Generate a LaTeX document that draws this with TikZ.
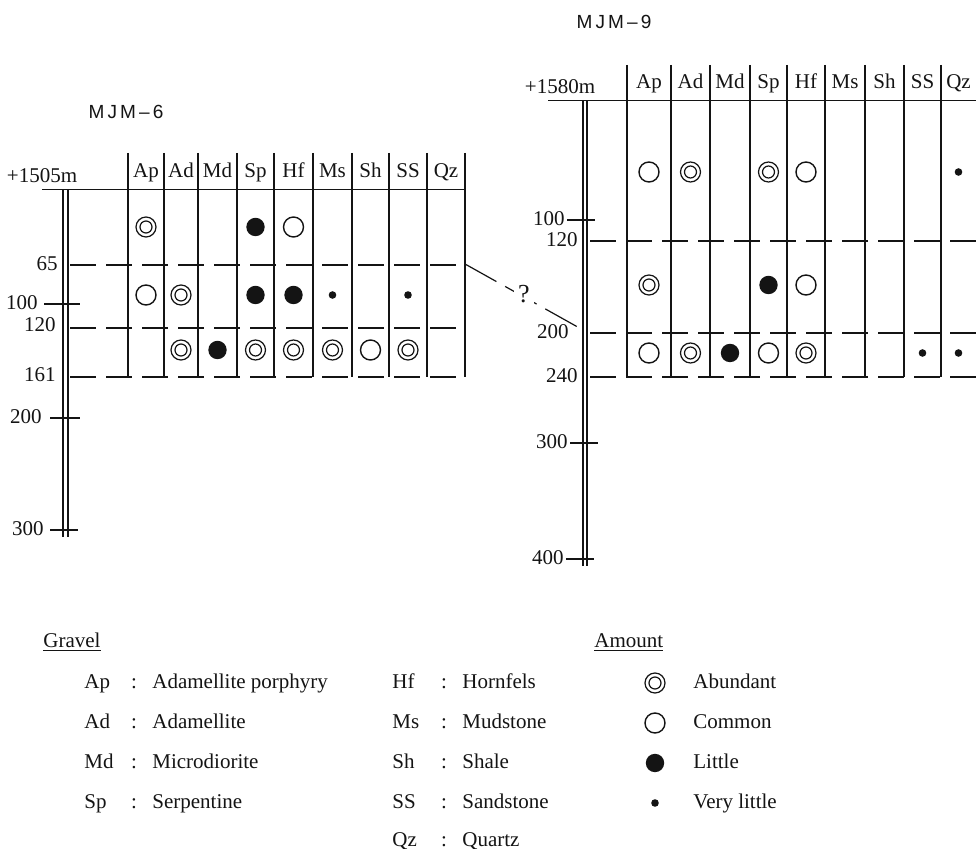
\documentclass[tikz,border=0pt]{standalone}
\usepackage{fontspec}
\setmainfont{Liberation Serif}
\newfontfamily\titlesans{Liberation Sans}
\usetikzlibrary{positioning}
\definecolor{inkblack}{RGB}{20, 20, 20}

% amount symbols
\newcommand{\gAbund}[1]{\draw[inkblack, line width=0.6pt] (#1) circle (5pt) (#1) circle (3pt);}
\newcommand{\gCommon}[1]{\draw[inkblack, line width=0.7pt] (#1) circle (5pt);}
\newcommand{\gLittle}[1]{\fill[inkblack] (#1) circle (4.6pt);}
\newcommand{\gVlittle}[1]{\fill[inkblack] (#1) circle (1.9pt);}

\tikzset{
    txt/.style={inner sep=1pt, font=\fontsize{10.5}{12}\selectfont, text=inkblack,
        text height=1.6ex, text depth=0.4ex},
    depth/.style={txt, anchor=east},
    colline/.style={inkblack, line width=1pt},
    hole/.style={inkblack, line width=0.6pt},
    layer/.style={inkblack, line width=0.7pt, dash pattern=on 13pt off 5pt},
}

\begin{document}
\begin{tikzpicture}[x=0.5pt, y=-0.5pt]
    \useasboundingbox[fill=white] (0,0) rectangle (976,849);

    % ---- MJM-6 ----
    \node[txt, font=\titlesans\fontsize{9.5}{11}\selectfont] (titleL) at (126,113) {M\,J\,M\,\textendash\,6};
    \node[txt] (topL) at (42,177) {+1505m};
    \draw[inkblack, line width=0.5pt] (42,190) -- (465,190);
    \foreach \x in {128,164,198,237,274,313,352,389,427,465}
        \draw[colline] (\x,153) -- (\x,377);
    \foreach \n/\x in {Ap/146,Ad/181,Md/217.5,Sp/255.5,Hf/293.5,Ms/332.5,Sh/370.5,SS/408,Qz/446}
        \node[txt] (hL\n) at (\x,172) {\n};
    \draw[hole] (63,190) -- (63,537) (68,190) -- (68,537);
    \draw[layer] (70,265) -- (465,265);
    \draw[layer] (70,328) -- (465,328);
    \draw[layer] (70,377) -- (465,377);
    \draw[hole] (44,304) -- (80,304) (50,418) -- (80,418) (50,530) -- (78,530);
    \node[depth] (dL65) at (60,265) {65};
    \node[depth] (dL100) at (40,304) {100};
    \node[depth] (dL120) at (58,326) {120};
    \node[depth] (dL161) at (58,376) {161};
    \node[depth] (dL200) at (44,418) {200};
    \node[depth] (dL300) at (46,530) {300};
    \coordinate (linkL) at (465,264);

    \gAbund{146,227} \gLittle{255.5,227} \gCommon{293.5,227}
    \gCommon{146,295} \gAbund{181,295} \gLittle{255.5,295} \gLittle{293.5,295}
    \gVlittle{332.5,295} \gVlittle{408,295}
    \gAbund{181,350} \gLittle{217.5,350} \gAbund{255.5,350} \gAbund{293.5,350}
    \gAbund{332.5,350} \gCommon{370.5,350} \gAbund{408,350}

    % ---- MJM-9 ----
    \node[txt, font=\titlesans\fontsize{9.5}{11}\selectfont] (titleR) at (614,23) {M\,J\,M\,\textendash\,9};
    \node[txt] (topR) at (560,88) {+1580m};
    \draw[inkblack, line width=0.5pt] (548,101) -- (976,101);
    \foreach \x in {627,671,710,750,787,825,865,904,941}
        \draw[colline] (\x,65) -- (\x,377);
    \foreach \n/\x in {Ap/649,Ad/690.5,Md/730,Sp/768.5,Hf/806,Ms/845,Sh/884.5,SS/922.5,Qz/958.5}
        \node[txt] (hR\n) at (\x,83) {\n};
    \draw[hole] (583,101) -- (583,566) (587,101) -- (587,566);
    \draw[layer] (590,241) -- (976,241);
    \draw[layer] (590,333) -- (976,333);
    \draw[layer] (590,377) -- (976,377);
    \draw[hole] (567,220) -- (595,220) (570,443) -- (598,443) (566,559) -- (594,559);
    \node[depth] (dR100) at (567,220) {100};
    \node[depth] (dR120) at (580,241) {120};
    \node[depth] (dR200) at (571,333) {200};
    \node[depth] (dR240) at (580,377) {240};
    \node[depth] (dR300) at (570,443) {300};
    \node[depth] (dR400) at (566,559) {400};
    \coordinate (linkR) at (583,330);

    \gCommon{649,172} \gAbund{690.5,172} \gAbund{768.5,172} \gCommon{806,172}
    \gVlittle{958.5,172}
    \gAbund{649,285} \gLittle{768.5,285} \gCommon{806,285}
    \gCommon{649,353} \gAbund{690.5,353} \gLittle{730,353} \gCommon{768.5,353}
    \gAbund{806,353} \gVlittle{922.5,353} \gVlittle{958.5,353}

    % correlation
    \draw[inkblack, line width=0.6pt, dash pattern=on 18pt off 5pt] (linkL) --
        node[txt, fill=white, inner sep=2pt, font=\fontsize{13}{14}\selectfont] (query) {?} (linkR);

    % ---- legend ----
    \node[txt, anchor=west] (gravel) at (41,642) {\underline{Gravel}};
    \node[txt, anchor=west] (amount) at (592,642) {\underline{Amount}};
    \foreach \a/\t/\y in {Ap/Adamellite porphyry/683, Ad/Adamellite/723,
                          Md/Microdiorite/763, Sp/Serpentine/803}{
        \node[txt, anchor=west] (k\a) at (82,\y) {\a};
        \node[txt] (c\a) at (134,\y) {:};
        \node[txt, anchor=west] (e\a) at (150,\y) {\t};
    }
    \foreach \a/\t/\y in {Hf/Hornfels/683, Ms/Mudstone/723, Sh/Shale/763,
                          SS/Sandstone/803, Qz/Quartz/841}{
        \node[txt, anchor=west] (k\a) at (390,\y) {\a};
        \node[txt] (c\a) at (444,\y) {:};
        \node[txt, anchor=west] (e\a) at (460,\y) {\t};
    }
    \gAbund{655,683} \gCommon{655,723} \gLittle{655,763} \gVlittle{655,803}
    \node[txt, anchor=west] (aAbund) at (691,683) {Abundant};
    \node[txt, anchor=west] (aCommon) at (691,723) {Common};
    \node[txt, anchor=west] (aLittle) at (691,763) {Little};
    \node[txt, anchor=west] (aVlittle) at (691,803) {Very little};
\end{tikzpicture}
\end{document}
